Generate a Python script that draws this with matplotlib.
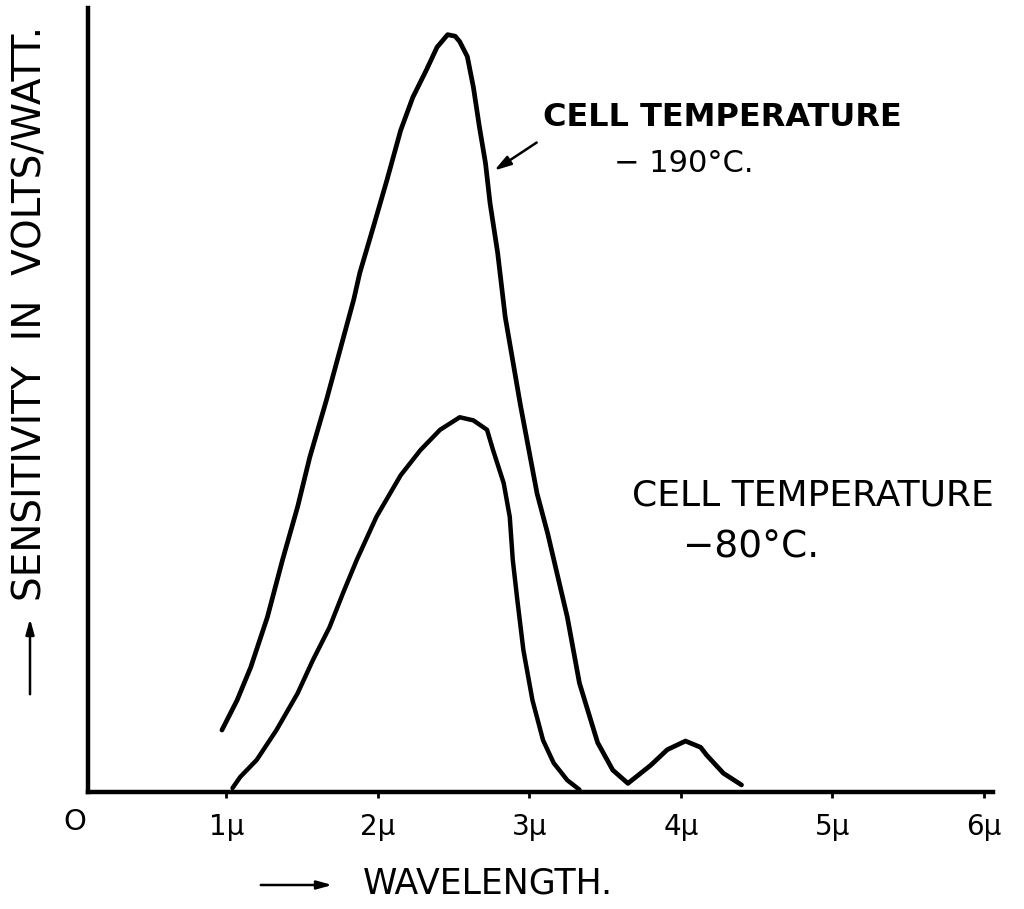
import numpy as np
import matplotlib
matplotlib.use("Agg")
import matplotlib.pyplot as plt

# wavelength in microns, sensitivity in arbitrary units (0-100 of axis height)
wl_190 = [0.97, 1.07, 1.16, 1.27, 1.37, 1.47, 1.55, 1.66, 1.75, 1.84, 1.88, 1.97,
          2.06, 2.15, 2.23, 2.32, 2.39, 2.46, 2.51, 2.54, 2.59, 2.63, 2.67, 2.71,
          2.74, 2.79, 2.84, 2.94, 3.05, 3.12, 3.25, 3.33, 3.45, 3.55, 3.65, 3.80,
          3.91, 4.03, 4.13, 4.17, 4.28, 4.40]
sens_190 = [7.9, 11.7, 15.9, 22.3, 29.6, 36.4, 42.7, 50.0, 56.4, 62.8, 66.2, 72.1,
            78.1, 84.4, 88.6, 92.1, 95.0, 96.6, 96.4, 95.7, 93.8, 89.9, 84.8, 80.2,
            75.1, 68.8, 60.6, 49.4, 38.1, 33.0, 22.3, 13.9, 6.3, 2.8, 1.1, 3.4,
            5.4, 6.5, 5.7, 4.7, 2.4, 0.9]

wl_80 = [1.04, 1.09, 1.20, 1.33, 1.47, 1.57, 1.68, 1.77, 1.86, 1.99, 2.15, 2.28,
         2.41, 2.54, 2.63, 2.72, 2.76, 2.83, 2.87, 2.89, 2.92, 2.96, 3.02, 3.09,
         3.16, 3.25, 3.33]
sens_80 = [0.5, 1.9, 4.1, 7.9, 12.6, 16.8, 21.0, 25.4, 29.6, 35.1, 40.4, 43.6,
           46.2, 47.8, 47.4, 46.2, 43.6, 39.4, 35.1, 29.6, 24.5, 18.1, 11.7, 6.6,
           3.7, 1.5, 0.3]

xticks = [1, 2, 3, 4, 5, 6]
xticklabels = ["1\u03bc", "2\u03bc", "3\u03bc", "4\u03bc", "5\u03bc", "6\u03bc"]

W, H = 1024, 909


def fp(x, y):
    # pixel position -> figure fraction
    return (x / W, 1 - y / H)


fig = plt.figure(figsize=(W / 100, H / 100), dpi=100)
ax = fig.add_axes([88 / W, (H - 792) / H, (993 - 88) / W, (792 - 8) / H])

ax.plot(wl_190, sens_190, color="black", lw=3.4, solid_capstyle="round",
        solid_joinstyle="round")
ax.plot(wl_80, sens_80, color="black", lw=3.2, solid_capstyle="round",
        solid_joinstyle="round")

ax.set_xlim(0.086, 6.06)
ax.set_ylim(0, 100)
for s in ["top", "right"]:
    ax.spines[s].set_visible(False)
ax.spines["left"].set_linewidth(3.2)
ax.spines["bottom"].set_linewidth(3.2)
ax.set_yticks([])
ax.set_xticks(xticks)
ax.set_xticklabels(xticklabels, fontsize=20)
ax.tick_params(axis="x", direction="out", length=4, width=2, pad=11)

# origin label
fig.text(*fp(75, 822), "O", fontsize=21, ha="center", va="center")

arrow_style = "-|>,head_length=0.9,head_width=0.25"

# y axis label with arrow
fig.text(*fp(31, 313), "SENSITIVITY  IN  VOLTS/WATT.", rotation=90, fontsize=28,
         ha="center", va="center")
ax.annotate("", xy=fp(30, 616), xycoords="figure fraction",
            xytext=fp(30, 697), textcoords="figure fraction",
            arrowprops=dict(arrowstyle=arrow_style, color="black", lw=1.8))

# x axis label with arrow
fig.text(*fp(363, 884), "WAVELENGTH.", fontsize=25, ha="left", va="center")
ax.annotate("", xy=fp(335, 885), xycoords="figure fraction",
            xytext=fp(258, 885), textcoords="figure fraction",
            arrowprops=dict(arrowstyle=arrow_style, color="black", lw=1.8))

# curve labels
fig.text(*fp(543, 117), "CELL TEMPERATURE", fontsize=23, fontweight="bold",
         ha="left", va="center")
fig.text(*fp(614, 164), "\u2212 190\u00b0C.", fontsize=22, ha="left", va="center")
ax.annotate("", xy=fp(492, 172), xycoords="figure fraction",
            xytext=fp(539, 141), textcoords="figure fraction",
            arrowprops=dict(arrowstyle="-|>,head_length=1.0,head_width=0.3",
                            color="black", lw=1.8))

fig.text(*fp(632, 496), "CELL TEMPERATURE", fontsize=26, ha="left", va="center")
fig.text(*fp(683, 548), "\u221280\u00b0C.", fontsize=27, ha="left", va="center")

fig.savefig("out.png", dpi=100)
